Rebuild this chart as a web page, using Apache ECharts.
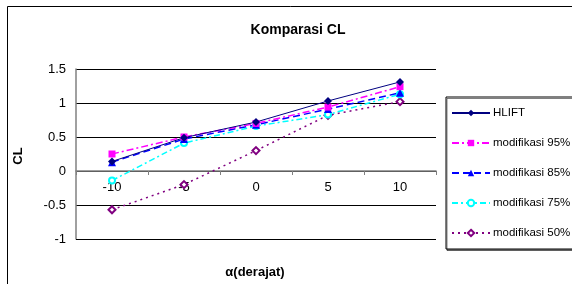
<!DOCTYPE html>
<html>
<head>
<meta charset="utf-8">
<script src="https://cdn.jsdelivr.net/npm/echarts@6/dist/echarts.min.js"></script>
<style>
  html, body { margin: 0; padding: 0; background: #fff; }
  #chart { width: 572px; height: 284px; }
</style>
</head>
<body>
<div id="chart"></div>
<script>
// sudut serang (derajat)
const alphaLabels = ['-10', '-5', '0', '5', '10']

// nilai CL tiap konfigurasi
const hlift = [0.14, 0.49, 0.72, 1.03, 1.31]
const mod95 = [0.25, 0.50, 0.70, 0.94, 1.24]
const mod85 = [0.13, 0.47, 0.68, 0.91, 1.15]
const mod75 = [-0.14, 0.41, 0.66, 0.83, 1.13]
const mod50 = [-0.57, -0.20, 0.30, 0.82, 1.02]

// garis grid bawah
const bottomGrid = -1

const chart = echarts.init(document.getElementById('chart'))

const font = 'Liberation Sans, Arial, sans-serif'

chart.setOption({
  animation: false,
  textStyle: { fontFamily: font },
  title: {
    text: 'Komparasi CL',
    left: 293,
    top: 18,
    textAlign: 'center',
    textStyle: { fontSize: 14, fontWeight: 'bold', color: '#000', fontFamily: font }
  },
  graphic: [
    {
      type: 'rect',
      shape: { x: 7.5, y: 6.5, width: 600, height: 300 },
      style: { fill: 'none', stroke: '#000', lineWidth: 1 },
      silent: true,
      z: -10
    },
    // judul sumbu
    {
      type: 'text',
      x: 18,
      y: 156,
      rotation: Math.PI / 2,
      style: { text: 'CL', font: 'bold 13px ' + font, fill: '#000', align: 'center', verticalAlign: 'middle' }
    },
    {
      type: 'text',
      x: 255,
      y: 272,
      style: { text: 'α(derajat)', font: 'bold 13px ' + font, fill: '#000', align: 'center', verticalAlign: 'middle' }
    }
  ],
  legend: {
    orient: 'vertical',
    left: 446,
    top: 97,
    itemWidth: 38,
    itemHeight: 8,
    itemGap: 18,
    padding: [10, 40, 10, 5],
    backgroundColor: '#fff',
    borderColor: '#000',
    borderWidth: 1,
    shadowColor: 'rgba(0,0,0,0.5)',
    shadowOffsetX: 1,
    shadowOffsetY: 1.5,
    shadowBlur: 0,
    textStyle: { fontSize: 11.5, color: '#000', fontFamily: font, padding: [0, 0, 0, -2] },
    data: ['HLIFT', 'modifikasi 95%', 'modifikasi 85%', 'modifikasi 75%', 'modifikasi 50%']
  },
  grid: {
    left: 76,
    right: 136,
    top: 69,
    bottom: 45,
    containLabel: false,
    outerBoundsMode: 'none'
  },
  xAxis: {
    type: 'category',
    data: alphaLabels,
    offset: -68,
    axisLine: { onZero: false, lineStyle: { color: '#808080', width: 1.5 } },
    axisTick: { show: true, length: 4, lineStyle: { color: '#808080' } },
    axisLabel: { fontSize: 13, color: '#000', margin: 10 },
    splitLine: { show: false }
  },
  yAxis: {
    type: 'value',
    min: -1,
    max: 1.5,
    interval: 0.5,
    axisLine: { show: true, lineStyle: { color: '#808080', width: 1.5 } },
    axisTick: { show: false },
    axisLabel: { fontSize: 13, color: '#000', margin: 10 },
    splitLine: { show: true, showMinLine: true, lineStyle: { color: '#000', width: 1 } }
  },
  series: [
    {
      name: 'modifikasi 50%',
      type: 'line',
      data: mod50,
      clip: false,
      symbol: 'emptyDiamond',
      symbolSize: 7,
      itemStyle: { color: '#800080', borderWidth: 1 },
      lineStyle: { color: '#800080', width: 1.5, type: [2, 4] },
      markLine: {
        silent: true,
        symbol: 'none',
        label: { show: false },
        emphasis: { disabled: true },
        lineStyle: { color: '#000', width: 1, type: 'solid', opacity: 1 },
        data: [[{ xAxis: 0, yAxis: bottomGrid, x: 76 }, { yAxis: bottomGrid, x: 436 }]]
      }
    },
    {
      name: 'modifikasi 75%',
      type: 'line',
      data: mod75,
      symbol: 'emptyCircle',
      symbolSize: 6,
      itemStyle: { color: '#00ffff', borderWidth: 1 },
      lineStyle: { color: '#00ffff', width: 1.5, type: [6, 3, 2, 3] }
    },
    {
      name: 'modifikasi 85%',
      type: 'line',
      data: mod85,
      symbol: 'triangle',
      symbolSize: 8,
      itemStyle: { color: '#0000ff' },
      lineStyle: { color: '#0000ff', width: 1.5, type: [7, 4] }
    },
    {
      name: 'modifikasi 95%',
      type: 'line',
      data: mod95,
      symbol: 'rect',
      symbolSize: 7,
      itemStyle: { color: '#ff00ff' },
      lineStyle: { color: '#ff00ff', width: 1.5, type: [7, 3, 2, 3] }
    },
    {
      name: 'HLIFT',
      type: 'line',
      data: hlift,
      symbol: 'diamond',
      symbolSize: 8,
      itemStyle: { color: '#000080' },
      lineStyle: { color: '#000080', width: 1 }
    }
  ]
})
</script>
</body>
</html>
